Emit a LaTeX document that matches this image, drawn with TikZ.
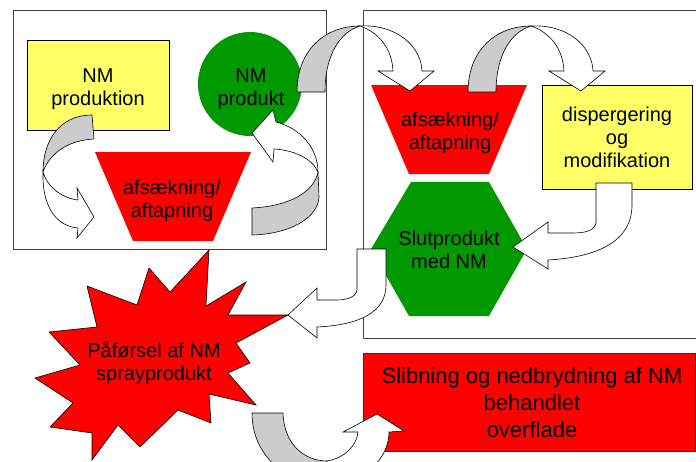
\documentclass[tikz,border=0pt]{standalone}
\usepackage{fontspec}
\setmainfont{Liberation Sans}
\definecolor{nmred}{RGB}{255,0,0}
\definecolor{nmgreen}{RGB}{0,153,0}
\definecolor{nmyellow}{RGB}{255,255,102}
\definecolor{nmgray}{RGB}{204,204,204}
\tikzset{
  panel/.style={draw=black!75, line width=0.9pt},
  ybox/.style={fill=nmyellow, draw=black, line width=0.6pt},
  rbox/.style={fill=nmred, draw=black!80, line width=0.6pt},
  grayband/.style={fill=nmgray, draw=black, line width=0.6pt, line join=round},
  whiteband/.style={fill=white, draw=black, line width=0.6pt, line join=miter},
  lbl/.style={inner sep=0pt, anchor=north, align=center, font=\fontsize{20}{23}\selectfont},
  biglbl/.style={inner sep=0pt, anchor=north, align=center, font=\fontsize{22}{27}\selectfont},
}
\begin{document}
\begin{tikzpicture}[x=1pt,y=-1pt]
\useasboundingbox (0,0) rectangle (696,461);
\clip (0,0) rectangle (696,461);
\fill[white] (0,0) rectangle (696,461);
% panels
\draw[panel] (13,10) rectangle (326,249);
\draw[panel] (363,10) rectangle (705,338);
% shapes
\draw[ybox] (27,40) rectangle (169,130);
\fill[nmgreen] (250,84) circle[radius=52];
\fill[nmred] (95,152) -- (251,152) -- (213,241) -- (133,241) -- cycle;
\fill[nmred] (371,85) -- (527,85) -- (489,174) -- (409,174) -- cycle;
\draw[ybox] (542,85) rectangle (692,189);
\fill[nmgreen] (411,182) -- (489,182) -- (527,249) -- (489,316) -- (409,316) -- (371,249) -- cycle;
\draw[rbox] (363,353) rectangle (695.5,451);
\draw[fill=nmred, draw=black, line width=0.6pt, line join=miter]
  (209,250) -- (206,306) -- (246,282) -- (228,315) -- (288,315) -- (236,343)
  -- (250,363) -- (228,373) -- (256,405) -- (209,394) -- (211,423) -- (178,410)
  -- (140,447) -- (118,425) -- (92,460) -- (92,433) -- (50,427) -- (73,403)
  -- (35,378) -- (80,365) -- (49,332) -- (97,327) -- (87,286) -- (137,305)
  -- (149,268) -- (170,292) -- cycle;
% arrow A: NM produktion -> afsaekning
\draw[grayband] (92,115) .. controls (60,115) and (43,140) .. (43,172)
  .. controls (50,152) and (70,140) .. (94,139) -- cycle;
\draw[whiteband] (43,172) .. controls (48,188) and (62,198) .. (78,200)
  -- (77,188) -- (94,217) -- (77,238) -- (78,228)
  .. controls (55,226) and (42,205) .. (43,172) -- cycle;
% arrow B: afsaekning -> NM produkt
\draw[grayband] (318,172) .. controls (314,192) and (290,206) .. (252,208)
  -- (252,235) .. controls (290,234) and (318,218) .. (319,197) -- cycle;
\draw[whiteband] (318,172) .. controls (318,148) and (300,128) .. (276,122)
  -- (273,110) -- (252,133) -- (273,162) -- (274,149)
  .. controls (293,150) and (312,158) .. (318,172) -- cycle;
% arrows C and D: over the top
\foreach \dx in {0,171}{
  \begin{scope}[xshift=\dx pt]
    \draw[grayband] (297,92) .. controls (297,50) and (325,26) .. (360,26)
      .. controls (340,32) and (325,55) .. (325,92) -- cycle;
    \draw[whiteband] (360,26) .. controls (395,24) and (421,45) .. (422,71)
      -- (434,71) -- (410,91) -- (378,71) -- (393,71)
      .. controls (392,48) and (378,32) .. (360,26) -- cycle;
  \end{scope}
}
% arrow E: dispergering -> Slutprodukt
\draw[whiteband] (596,183) -- (596,223) .. controls (594,231) and (585,233) .. (572,233)
  -- (548,233) -- (548,222) -- (513,247) -- (548,269) -- (548,260)
  .. controls (600,257) and (632,240) .. (632,205) -- (632,183) -- cycle;
% arrow F: Slutprodukt -> Paaforsel
\draw[whiteband] (357,249) -- (357,289) .. controls (357,297) and (347,300) .. (337,300)
  -- (317,300) -- (317,288) -- (288,315) -- (317,338) -- (317,327)
  .. controls (360,325) and (386,312) .. (386,285) -- (386,249) -- cycle;
% arrow G: Paaforsel -> Slibning
\draw[grayband] (252,413) -- (283,413) .. controls (284,445) and (305,461) .. (327,461)
  -- (325,485) .. controls (285,483) and (252,455) .. (252,413) -- cycle;
\draw[whiteband] (327,461) .. controls (345,458) and (357,445) .. (358,432)
  -- (343,432) -- (377,414) -- (404,431) -- (389,432)
  .. controls (389,458) and (365,484) .. (325,485) -- cycle;
% texts
\node[lbl] (nmprodtion) at (98,65.9) {\strut NM\\\strut produktion};
\node[lbl] (nmprodukt) at (251,65.9) {\strut NM\\\strut produkt};
\node[lbl] (afs1) at (172,177.9) {\strut afsækning/\\\strut aftapning};
\node[lbl] (afs2) at (450,109.9) {\strut afsækning/\\\strut aftapning};
\node[lbl] (disp) at (617,104.9) {\strut dispergering\\\strut og\\\strut modifikation};
\node[lbl] (slut) at (449,228.9) {\strut Slutprodukt\\\strut med NM};
\node[lbl] (spray) at (154,340.9) {\strut Påførsel af NM\\\strut sprayprodukt};
\node[biglbl] (slib) at (532,364.1) {\strut Slibning og nedbrydning af NM\\\strut behandlet\\\strut overflade};
\end{tikzpicture}
\end{document}
